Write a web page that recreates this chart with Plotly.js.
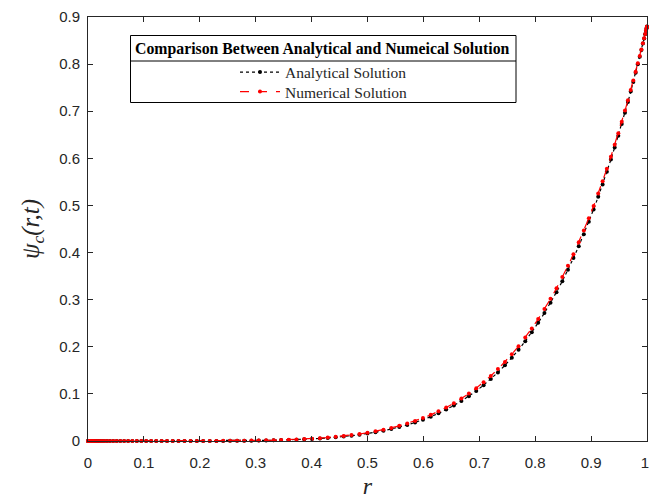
<!DOCTYPE html>
<html>
<head>
<meta charset="utf-8">
<script src="https://cdn.plot.ly/plotly-3.0.1.min.js"></script>
<style>html,body{margin:0;padding:0;background:#fff;}#chart{width:649px;height:499px;}</style>
</head>
<body>
<div id="chart"></div>
<script>
const r = [
0, 0.0002, 0.0008, 0.0018, 0.0033, 0.0051, 0.0073, 0.0100, 0.0130, 0.0164,
0.0203, 0.0245, 0.0291, 0.0341, 0.0394, 0.0452, 0.0513, 0.0578, 0.0646, 0.0718,
0.0794, 0.0873, 0.0955, 0.1041, 0.1130, 0.1221, 0.1316, 0.1414, 0.1515, 0.1619,
0.1726, 0.1835, 0.1947, 0.2061, 0.2178, 0.2298, 0.2418, 0.2541, 0.2667, 0.2794,
0.2923, 0.3054, 0.3186, 0.3320, 0.3455, 0.3592, 0.3730, 0.3868, 0.4008, 0.4149,
0.4289, 0.4431, 0.4574, 0.4714, 0.4857, 0.5000, 0.5143, 0.5286, 0.5426, 0.5569,
0.5711, 0.5851, 0.5992, 0.6132, 0.6270, 0.6408, 0.6545, 0.6680, 0.6814, 0.6946,
0.7077, 0.7206, 0.7333, 0.7459, 0.7582, 0.7702, 0.7822, 0.7939, 0.8053, 0.8165,
0.8274, 0.8381, 0.8485, 0.8586, 0.8684, 0.8779, 0.8870, 0.8959, 0.9045, 0.9127,
0.9206, 0.9282, 0.9354, 0.9422, 0.9487, 0.9548, 0.9606, 0.9659, 0.9709, 0.9755,
0.9797, 0.9836, 0.9870, 0.9900, 0.9927, 0.9949, 0.9967, 0.9982, 0.9992, 0.9998,
1.0000
];

// Analytical solution values
const analytical = [
0, 0, 0, 0, 0, 0, 0, 0, 0, 0,
0, 0, 0, 0, 0, 0, 0, 0, 0, 0,
0, 0, 0, 0, 0, 0, 0, 0, 0, 0,
0, 0, 0.0001, 0.0001, 0.0001, 0.0002, 0.0002, 0.0003, 0.0004, 0.0005,
0.0007, 0.0009, 0.0012, 0.0015, 0.0019, 0.0023, 0.0029, 0.0036, 0.0044, 0.0054,
0.0065, 0.0078, 0.0094, 0.0112, 0.0133, 0.0158, 0.0186, 0.0218, 0.0254, 0.0295,
0.0342, 0.0393, 0.0451, 0.0516, 0.0587, 0.0666, 0.0753, 0.0848, 0.0951, 0.1063,
0.1185, 0.1316, 0.1456, 0.1607, 0.1767, 0.1936, 0.2118, 0.2308, 0.2508, 0.2717,
0.2934, 0.3160, 0.3393, 0.3635, 0.3882, 0.4136, 0.4390, 0.4652, 0.4916, 0.5183,
0.5447, 0.5713, 0.5974, 0.6232, 0.6482, 0.6728, 0.6970, 0.7196, 0.7416, 0.7622,
0.7814, 0.7997, 0.8156, 0.8299, 0.8436, 0.8544, 0.8634, 0.8709, 0.8759, 0.8790,
0.8800
];

// Numerical solution values
const numerical = [
0, 0, 0, 0, 0, 0, 0, 0, 0, 0,
0, 0, 0, 0, 0, 0, 0, 0, 0, 0,
0, 0, 0, 0, 0, 0, 0, 0, 0, 0,
0, 0.0001, 0.0001, 0.0001, 0.0002, 0.0002, 0.0003, 0.0004, 0.0005, 0.0007,
0.0008, 0.0011, 0.0014, 0.0017, 0.0022, 0.0027, 0.0033, 0.0041, 0.0050, 0.0061,
0.0074, 0.0089, 0.0106, 0.0126, 0.0149, 0.0175, 0.0206, 0.0240, 0.0278, 0.0322,
0.0372, 0.0426, 0.0487, 0.0555, 0.0630, 0.0712, 0.0802, 0.0900, 0.1008, 0.1122,
0.1248, 0.1382, 0.1526, 0.1679, 0.1842, 0.2013, 0.2198, 0.2389, 0.2590, 0.2800,
0.3018, 0.3244, 0.3479, 0.3718, 0.3965, 0.4217, 0.4470, 0.4730, 0.4990, 0.5254,
0.5515, 0.5777, 0.6034, 0.6288, 0.6534, 0.6775, 0.7013, 0.7233, 0.7449, 0.7650,
0.7838, 0.8017, 0.8173, 0.8312, 0.8445, 0.8550, 0.8639, 0.8712, 0.8760, 0.8790,
0.8800
];

const xTicks = [0, 0.1, 0.2, 0.3, 0.4, 0.5, 0.6, 0.7, 0.8, 0.9, 1];
const xTickText = ['0', '0.1', '0.2', '0.3', '0.4', '0.5', '0.6', '0.7', '0.8', '0.9', '1\u00a0'];
const yTicks = [0, 0.1, 0.2, 0.3, 0.4, 0.5, 0.6, 0.7, 0.8, 0.9];
const yTickText = ['0', '0.1', '0.2', '0.3', '0.4', '0.5', '0.6', '0.7', '0.8', '0.9'];

const legendTitle = 'Comparison Between Analytical and Numeical Solution';
const seriesNames = ['Analytical Solution', 'Numerical Solution'];

const axisColor = '#262626';
const serif = '"Liberation Serif", "Times New Roman", serif';
const sans = '"Liberation Sans", Arial, sans-serif';

// plot-area geometry in px (for converting legend box positions to paper coords)
const L = 88, R = 2, T = 17, B = 58, W = 649, H = 499;
const pw = W - L - R, ph = H - T - B;
const px = x => (x - L) / pw;
const py = y => (H - B - y) / ph;

const traces = [
  {
    x: r, y: analytical, name: seriesNames[0], type: 'scatter', mode: 'lines+markers',
    line: {color: '#000000', width: 1.2, dash: 'dot'},
    marker: {color: '#000000', size: 4, symbol: 'circle'},
    cliponaxis: false, legend: 'legend'
  },
  {
    x: r, y: numerical, name: seriesNames[1], type: 'scatter', mode: 'lines+markers',
    line: {color: '#ff0000', width: 1.2, dash: 'dash'},
    marker: {color: '#ff0000', size: 4, symbol: 'circle'},
    cliponaxis: false, legend: 'legend2'
  }
];

const legendBase = {
  xanchor: 'left', yanchor: 'middle',
  bgcolor: 'rgba(0,0,0,0)', borderwidth: 0,
  font: {family: serif, size: 15.5, color: '#262626'},
  itemwidth: 40
};

const layout = {
  width: W, height: H,
  margin: {l: L, r: R, t: T, b: B, pad: 0},
  paper_bgcolor: '#ffffff', plot_bgcolor: '#ffffff',
  showlegend: true,
  legend: Object.assign({}, legendBase, {x: px(235), y: py(72.5)}),
  legend2: Object.assign({}, legendBase, {x: px(235), y: py(92)}),
  xaxis: {
    range: [0, 1], tickvals: xTicks, ticktext: xTickText,
    showgrid: false, zeroline: false,
    showline: true, linecolor: axisColor, linewidth: 1, mirror: 'ticks',
    ticks: 'inside', ticklen: 5, tickwidth: 1, tickcolor: axisColor,
    tickfont: {family: sans, size: 15, color: axisColor},
    ticklabelstandoff: 8, ticklabeloverflow: 'allow',
    title: {text: '<i>r</i>', font: {family: serif, size: 24, color: axisColor}, standoff: 8},
    automargin: false, fixedrange: true
  },
  yaxis: {
    range: [0, 0.9], tickvals: yTicks, ticktext: yTickText,
    showgrid: false, zeroline: false,
    showline: true, linecolor: axisColor, linewidth: 1, mirror: 'ticks',
    ticks: 'inside', ticklen: 5, tickwidth: 1, tickcolor: axisColor,
    tickfont: {family: sans, size: 15, color: axisColor},
    ticklabelstandoff: 4, ticklabeloverflow: 'allow',
    title: {text: '<i>ψ</i><sub><i>c</i></sub><i>(r,t)</i>', font: {family: serif, size: 25, color: axisColor}, standoff: 12},
    automargin: false, fixedrange: true
  },
  shapes: [
    {type: 'rect', xref: 'paper', yref: 'paper', x0: px(130.5), x1: px(516), y0: py(102.5), y1: py(35.5),
     line: {color: '#000000', width: 1}, fillcolor: '#ffffff', layer: 'below'},
    {type: 'line', xref: 'paper', yref: 'paper', x0: px(130.5), x1: px(516), y0: py(61), y1: py(61),
     line: {color: '#000000', width: 1}}
  ],
  annotations: [
    {xref: 'paper', yref: 'paper', x: px(322), y: py(48.5), xanchor: 'center', yanchor: 'middle',
     text: '<b>' + legendTitle + '</b>', showarrow: false,
     font: {family: serif, size: 15.8, color: '#000000'}}
  ]
};

Plotly.newPlot('chart', traces, layout, {displayModeBar: false, staticPlot: true});
</script>
</body>
</html>
